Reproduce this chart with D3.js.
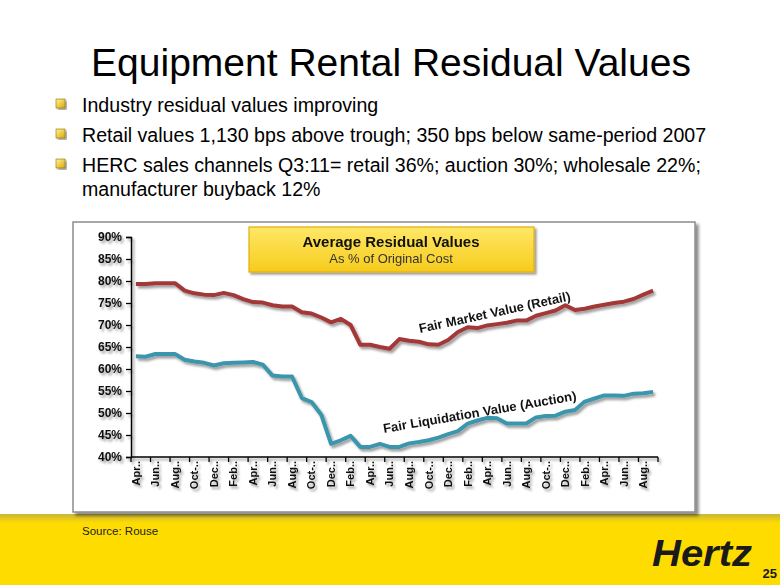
<!DOCTYPE html>
<html><head><meta charset="utf-8">
<script src="https://cdn.jsdelivr.net/npm/d3@7"></script>
<style>body{margin:0;background:#fff}svg{display:block;font-family:Arial,"Liberation Sans",sans-serif}</style>
</head><body><svg id="c" width="780" height="585"></svg>
<script>
const categories = ["Apr-07","May-07","Jun-07","Jul-07","Aug-07","Sep-07","Oct-07","Nov-07","Dec-07",
 "Jan-08","Feb-08","Mar-08","Apr-08","May-08","Jun-08","Jul-08","Aug-08","Sep-08","Oct-08","Nov-08","Dec-08",
 "Jan-09","Feb-09","Mar-09","Apr-09","May-09","Jun-09","Jul-09","Aug-09","Sep-09","Oct-09","Nov-09","Dec-09",
 "Jan-10","Feb-10","Mar-10","Apr-10","May-10","Jun-10","Jul-10","Aug-10","Sep-10","Oct-10","Nov-10","Dec-10",
 "Jan-11","Feb-11","Mar-11","Apr-11","May-11","Jun-11","Jul-11","Aug-11","Sep-11"];
const tickLabels = ["Apr..","Jun..","Aug..","Oct-..","Dec..","Feb..","Apr..","Jun..","Aug..","Oct-..","Dec..","Feb..",
 "Apr..","Jun..","Aug..","Oct-..","Dec..","Feb..","Apr..","Jun..","Aug..","Oct-..","Dec..","Feb..","Apr..","Jun..","Aug.."];
const retail = [79.3,79.3,79.5,79.5,79.5,77.8,77.2,76.9,76.8,77.3,76.8,75.9,75.2,75.1,74.5,74.2,74.2,72.9,72.6,71.7,70.6,
 71.4,70.0,65.5,65.5,65.0,64.6,66.8,66.4,66.2,65.6,65.5,66.6,68.4,69.5,69.3,69.9,70.2,70.5,71.0,71.0,72.1,72.7,73.3,
 74.5,73.4,73.7,74.2,74.6,75.0,75.3,75.9,76.9,77.8];
const auction = [62.9,62.8,63.4,63.4,63.4,62.1,61.7,61.4,60.8,61.3,61.4,61.5,61.6,61.0,58.5,58.3,58.3,53.4,52.5,49.6,43.0,
 43.8,44.8,42.3,42.3,43.0,42.3,42.3,43.1,43.4,43.8,44.4,45.2,45.9,47.6,48.3,48.9,48.8,47.6,47.6,47.6,49.0,49.3,49.4,
 50.3,50.7,52.6,53.3,54.0,54.0,53.9,54.4,54.5,54.8];
const yTicks = [40,45,50,55,60,65,70,75,80,85,90];
const title = "Equipment Rental Residual Values";
const bullets = [["Industry residual values improving"],
 ["Retail values 1,130 bps above trough; 350 bps below same-period 2007"],
 ["HERC sales channels Q3:11= retail 36%; auction 30%; wholesale 22%;","manufacturer buyback 12%"]];
const legendTitle = "Average Residual Values";
const legendSub = "As % of Original Cost";
const seriesNames = ["Fair Market Value (Retail)","Fair Liquidation Value (Auction)"];

const svg = d3.select("#c");
const defs = svg.append("defs");
function shadow(id, dx, dy, sd, op){
  const f = defs.append("filter").attr("id",id).attr("x","-20%").attr("y","-20%").attr("width","140%").attr("height","140%");
  f.append("feDropShadow").attr("dx",dx).attr("dy",dy).attr("stdDeviation",sd).attr("flood-color","#000").attr("flood-opacity",op);
}
shadow("sh",2,2.5,1.3,0.38);
shadow("boxsh",3,3,1.5,0.45);
shadow("legsh",2,2,1.2,0.4);
const lg = defs.append("linearGradient").attr("id","leg").attr("x1",0).attr("y1",0).attr("x2",0).attr("y2",1);
lg.append("stop").attr("offset","0%").attr("stop-color","#FFE866");
lg.append("stop").attr("offset","100%").attr("stop-color","#F6CB1C");
const fg = defs.append("linearGradient").attr("id","foot").attr("x1",0).attr("y1",0).attr("x2",0).attr("y2",1);
fg.append("stop").attr("offset","0%").attr("stop-color","#C9B43A");
fg.append("stop").attr("offset","100%").attr("stop-color","#FFDC00");
const bg = defs.append("linearGradient").attr("id","bul").attr("x1",0).attr("y1",0).attr("x2",1).attr("y2",1);
bg.append("stop").attr("offset","0%").attr("stop-color","#FFF3A0");
bg.append("stop").attr("offset","100%").attr("stop-color","#D9A800");

// Footer
svg.append("rect").attr("x",0).attr("y",517).attr("width",780).attr("height",68).attr("fill","#FFDC00");
svg.append("rect").attr("x",0).attr("y",514).attr("width",780).attr("height",9).attr("fill","url(#foot)");
svg.append("text").attr("x",82).attr("y",535).attr("font-size",11.5).attr("fill","#222").text("Source: Rouse");
svg.append("text").attr("x",652).attr("y",566).attr("font-size",37).attr("font-weight","bold").attr("font-style","italic")
  .attr("textLength",100).attr("lengthAdjust","spacingAndGlyphs").attr("fill","#1a1a1a").text("Hertz");
svg.append("text").attr("x",777).attr("y",578).attr("text-anchor","end").attr("font-size",13).attr("font-weight","bold").attr("fill","#1a1a1a").text("25");

// Title
svg.append("text").attr("x",391).attr("y",76).attr("text-anchor","middle").attr("font-size",39).attr("fill","#000").text(title);

// Bullets
const bulletY = [112,142,172];
bullets.forEach((lines,i)=>{
  svg.append("rect").attr("x",56).attr("y",bulletY[i]-13).attr("width",9).attr("height",9)
    .attr("fill","url(#bul)").attr("stroke","#8a7000").attr("stroke-width",0.6).attr("filter","url(#legsh)");
  lines.forEach((t,j)=>{
    svg.append("text").attr("x",82).attr("y",bulletY[i]+j*24).attr("font-size",19.6).attr("fill","#000").text(t);
  });
});

// Chart box
svg.append("rect").attr("x",73).attr("y",222).attr("width",622).attr("height",290)
  .attr("fill","#fff").attr("stroke","#8c8c8c").attr("stroke-width",1.5).attr("filter","url(#boxsh)");

const x = d3.scaleBand().domain(d3.range(categories.length)).range([131,658]).padding(0);
const y = d3.scaleLinear().domain([40,90]).range([457,237]);
const cx = i => x(i) + x.bandwidth()/2;

// Axes
const axG = svg.append("g").attr("filter","url(#sh)");
const yAxis = axG.append("g").attr("transform","translate(131,0)")
  .call(d3.axisLeft(y).tickValues(yTicks).tickSize(5).tickPadding(4).tickFormat(d=>d+"%"));
yAxis.select(".domain").attr("stroke","#000").attr("stroke-width",1.5);
yAxis.selectAll(".tick line").attr("stroke","#000").attr("stroke-width",1.3);
yAxis.selectAll("text").attr("font-size",12).attr("font-weight","bold").attr("font-family","Arial,'Liberation Sans',sans-serif").attr("fill","#111");

const xAx = axG.append("g");
xAx.append("line").attr("x1",131).attr("x2",658).attr("y1",457).attr("y2",457).attr("stroke","#000").attr("stroke-width",1.5);
const bounds = d3.range(0, categories.length+1, 2);
xAx.selectAll("line.t").data(bounds).join("line").attr("class","t")
  .attr("x1",k=>k<categories.length ? x(k) : x(categories.length-1)+x.bandwidth())
  .attr("x2",k=>k<categories.length ? x(k) : x(categories.length-1)+x.bandwidth())
  .attr("y1",457).attr("y2",462).attr("stroke","#000").attr("stroke-width",1.3);
xAx.selectAll("text").data(tickLabels).join("text")
  .attr("transform",(d,i)=>`translate(${cx(i*2)},461) rotate(-90)`)
  .attr("text-anchor","end").attr("dy","0.35em").attr("font-size",11).attr("font-weight","bold").attr("fill","#111")
  .text(d=>d);

// Lines
const line = d3.line().x((d,i)=>cx(i)).y(d=>y(d));
const lg2 = svg.append("g").attr("filter","url(#sh)");
lg2.append("path").datum(retail).attr("d",line).attr("fill","none").attr("stroke","#A33838").attr("stroke-width",4).attr("stroke-linejoin","round");
lg2.append("path").datum(auction).attr("d",line).attr("fill","none").attr("stroke","#3A95AD").attr("stroke-width",4).attr("stroke-linejoin","round");

// Series labels
svg.append("text").attr("transform","translate(420,333) rotate(-12.2)").attr("font-size",13).attr("font-weight","bold").attr("fill","#111").text(seriesNames[0]);
svg.append("text").attr("transform","translate(384,433) rotate(-9.7)").attr("font-size",13).attr("font-weight","bold").attr("fill","#111").text(seriesNames[1]);

// Legend box
svg.append("rect").attr("x",249).attr("y",227).attr("width",285).attr("height",45)
  .attr("fill","url(#leg)").attr("stroke","#E2AE10").attr("stroke-width",1.2).attr("filter","url(#legsh)");
svg.append("text").attr("x",391).attr("y",247).attr("text-anchor","middle").attr("font-size",15).attr("font-weight","bold").attr("fill","#111").text(legendTitle);
svg.append("text").attr("x",391).attr("y",263).attr("text-anchor","middle").attr("font-size",13).attr("fill","#333").text(legendSub);
</script></body></html>
